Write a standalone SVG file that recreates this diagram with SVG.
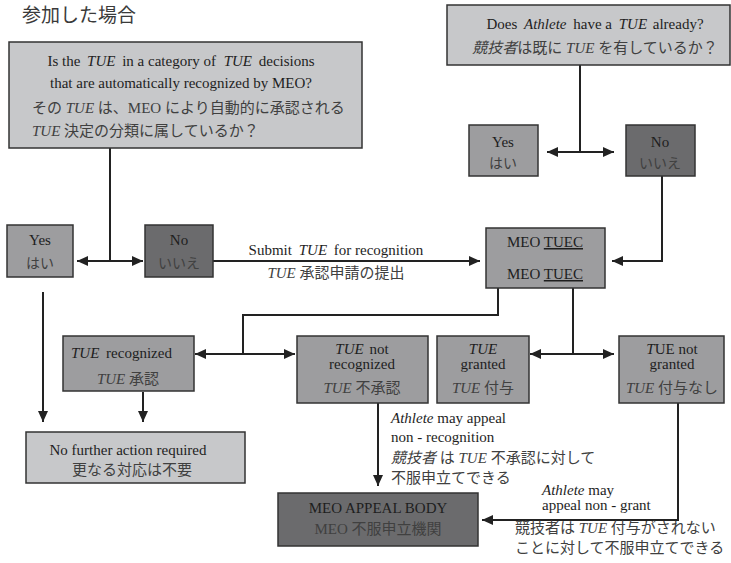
<svg xmlns="http://www.w3.org/2000/svg" width="731" height="563" viewBox="0 0 731 563">
<defs>
<style>
.bl{fill:#c7c8ca;stroke:#333;stroke-width:1.5}
.bm{fill:#9d9d9f;stroke:#333;stroke-width:1.5}
.bd{fill:#6b6b6d;stroke:#333;stroke-width:1.5}
text{font-family:'Liberation Serif','Noto Sans CJK JP',serif;font-size:15px;fill:#1e1e1e}
.j{fill:#404040}
.i{font-style:italic}
.c{text-anchor:middle}
.u{text-decoration:underline}
.ln{fill:none;stroke:#222;stroke-width:2}
.ar{fill:none;stroke:#222;stroke-width:2;marker-end:url(#ah)}
</style>
<marker id="ah" markerUnits="userSpaceOnUse" markerWidth="11" markerHeight="10" refX="11" refY="5" orient="auto">
<path d="M0,0 L11,5 L0,10 z" fill="#222"/>
</marker>
</defs>
<rect width="731" height="563" fill="#fff"/>
<text x="22" y="22" style="font-family:'Noto Sans CJK JP',sans-serif;font-size:19px;fill:#3a3a3a">参加した場合</text>

<g id="connectors">
<path class="ln" d="M110,148 V261"/>
<path class="ar" d="M110,261 H77"/>
<path class="ar" d="M110,261 H143"/>
<path class="ln" d="M580,65 V152"/>
<path class="ar" d="M580,152 H547"/>
<path class="ar" d="M580,152 H614"/>
<path class="ar" d="M213,261 H480"/>
<path class="ar" d="M662,176 V261 H612"/>
<path class="ln" d="M498,288 V315 H243 V354"/>
<path class="ar" d="M243,354 H195"/>
<path class="ar" d="M243,354 H295"/>
<path class="ln" d="M573,288 V354"/>
<path class="ar" d="M573,354 H530"/>
<path class="ar" d="M573,354 H614"/>
<path class="ar" d="M43,292 V422"/>
<path class="ar" d="M143,392 V422"/>
<path class="ar" d="M378,403 V486"/>
<path class="ar" d="M678,403 V520 H482"/>
<text class="c" x="336" y="255">Submit <tspan class="i" dx="3">TUE</tspan><tspan dx="3"> for recognition</tspan></text>
<text class="c j" x="336" y="278"><tspan class="i">TUE</tspan> 承認申請の提出</text>
<text x="391" y="423"><tspan class="i">Athlete</tspan> may appeal</text>
<text x="391" y="442">non - recognition</text>
<text class="j" x="391" y="463"><tspan class="i">競技者</tspan> は <tspan class="i">TUE</tspan> 不承認に対して</text>
<text class="j" x="391" y="483">不服申立てできる</text>
<text x="542" y="495"><tspan class="i">Athlete</tspan> may</text>
<text x="542" y="510">appeal non - grant</text>
<text class="j" x="515" y="533">競技者は <tspan class="i">TUE</tspan> 付与がされない</text>
<text class="j" x="515" y="553">ことに対して不服申立てできる</text>
</g>

<g id="q-category">
<rect class="bl" x="9" y="42" width="353" height="106"/>
<text class="c" x="181" y="66">Is the <tspan class="i" dx="3">TUE</tspan><tspan dx="3"> in a category of </tspan><tspan class="i" dx="4">TUE</tspan><tspan dx="3"> decisions</tspan></text>
<text class="c" x="181" y="88">that are automatically recognized by MEO?</text>
<text class="j" x="32" y="113">その <tspan class="i">TUE</tspan> は、MEO により自動的に承認される</text>
<text class="j" x="32" y="136"><tspan class="i">TUE</tspan> 決定の分類に属しているか？</text>
</g>

<g id="q-has-tue">
<rect class="bl" x="447" y="5" width="283" height="60"/>
<text class="c" x="595" y="29">Does <tspan class="i" dx="3">Athlete</tspan><tspan dx="3"> have a </tspan><tspan class="i" dx="3">TUE</tspan><tspan dx="2"> already?</tspan></text>
<text class="c j" x="595" y="53"><tspan class="i">競技者</tspan>は既に <tspan class="i">TUE</tspan> を有しているか？</text>
</g>

<g id="yes-right">
<rect class="bm" x="469" y="125" width="69" height="51"/>
<text class="c" x="503" y="147">Yes</text>
<text class="c j" x="503" y="168" style="font-size:14px">はい</text>
</g>

<g id="no-right">
<rect class="bd" x="626" y="125" width="69" height="51"/>
<text class="c" x="660" y="147">No</text>
<text class="c j" x="660" y="168" style="font-size:14px">いいえ</text>
</g>

<g id="yes-left">
<rect class="bm" x="7" y="225" width="66" height="52"/>
<text class="c" x="40" y="245">Yes</text>
<text class="c j" x="40" y="268" style="font-size:14px">はい</text>
</g>

<g id="no-left">
<rect class="bd" x="145" y="225" width="68" height="52"/>
<text class="c" x="179" y="245">No</text>
<text class="c j" x="179" y="268" style="font-size:14px">いいえ</text>
</g>

<g id="meo-tuec">
<rect class="bm" x="486" y="228" width="119" height="60"/>
<text class="c" x="545" y="247">MEO <tspan class="u">TUEC</tspan></text>
<text class="c" x="545" y="279">MEO <tspan class="u">TUEC</tspan></text>
</g>

<g id="tue-recognized">
<rect class="bm" x="63" y="336" width="131" height="55"/>
<text x="71" y="358"><tspan class="i">TUE</tspan><tspan dx="3"> recognized</tspan></text>
<text class="c j" x="128" y="384"><tspan class="i">TUE</tspan> 承認</text>
</g>

<g id="tue-not-recognized">
<rect class="bm" x="297" y="336" width="131" height="67"/>
<text class="c" x="362" y="354"><tspan class="i">TUE</tspan><tspan dx="2"> not</tspan></text>
<text class="c" x="362" y="369">recognized</text>
<text class="c j" x="362" y="393"><tspan class="i">TUE</tspan> 不承認</text>
</g>

<g id="tue-granted">
<rect class="bm" x="437" y="336" width="92" height="67"/>
<text class="c i" x="483" y="354">TUE</text>
<text class="c" x="483" y="369">granted</text>
<text class="c j" x="483" y="393"><tspan class="i">TUE</tspan> 付与</text>
</g>

<g id="tue-not-granted">
<rect class="bm" x="619" y="336" width="105" height="67"/>
<text class="c" x="672" y="354"><tspan class="i">T</tspan>UE not</text>
<text class="c" x="672" y="369">granted</text>
<text class="c j" x="672" y="393"><tspan class="i">TUE</tspan> 付与なし</text>
</g>

<g id="no-further-action">
<rect class="bl" x="26" y="432" width="219" height="51"/>
<text class="c" x="128" y="455">No further action required</text>
<text class="c j" x="132" y="475">更なる対応は不要</text>
</g>

<g id="appeal-body">
<rect class="bd" x="278" y="493" width="200" height="53"/>
<text class="c" x="378" y="513">MEO APPEAL BODY</text>
<text class="c j" x="378" y="534">MEO 不服申立機関</text>
</g>
</svg>
